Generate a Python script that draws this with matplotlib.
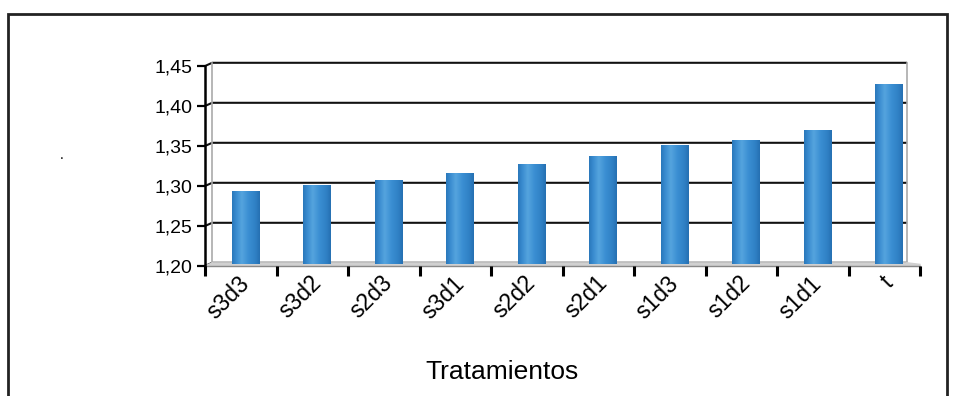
import matplotlib
matplotlib.use('Agg')
import matplotlib.pyplot as plt
from matplotlib.colors import LinearSegmentedColormap
from matplotlib.patches import Rectangle
import numpy

plt.rcParams['font.family'] = ['Liberation Sans', 'DejaVu Sans']

# treatments and their means
tratamientos = ['s3d3', 's3d2', 's2d3', 's3d1', 's2d2', 's2d1', 's1d3', 's1d2', 's1d1', 't']
medias = [1.293, 1.300, 1.306, 1.315, 1.327, 1.336, 1.350, 1.356, 1.369, 1.426]
y_ticks = [1.20, 1.25, 1.30, 1.35, 1.40, 1.45]
y_labels = ['1,20', '1,25', '1,30', '1,35', '1,40', '1,45']

ymin, ymax = 1.20, 1.45
n = len(tratamientos)

fig = plt.figure(figsize=(9.55, 3.96), dpi=100)

# outer frame of the chart area
frame = Rectangle((8 / 955, -0.05), 939 / 955, 1 - 14 / 396 + 0.05,
                  transform=fig.transFigure, fill=False,
                  edgecolor='#222222', linewidth=2.0)
fig.add_artist(frame)

ax = fig.add_axes([205 / 955, 1 - 266 / 396, 715 / 955, 200 / 396])
ax.set_xlim(0, n)
ax.set_ylim(ymin, ymax)
for s in ax.spines.values():
  s.set_visible(False)

# back wall offset (fake depth)
dx = 0.1
dy = 0.004
wall_right = 9.82

# gridlines on the back wall, joined to the front axis
for v in y_ticks:
  ax.plot([0, dx, wall_right], [v, v + dy, v + dy], color='#111111',
          linewidth=1.5, zorder=1, solid_capstyle='butt', clip_on=False)
ax.plot([dx, dx], [ymin + dy, ymax + dy], color='#aaaaaa', linewidth=1.2,
        zorder=1, clip_on=False)
ax.plot([wall_right, wall_right], [ymin + dy, ymax + dy], color='#aaaaaa',
        linewidth=1.2, zorder=1, clip_on=False)

# floor
ax.fill([0, dx, wall_right, n, n], [ymin, ymin + dy, ymin + dy, ymin + 0.002, ymin],
        color='#d0d0d0', zorder=1, clip_on=False)
ax.plot([0, n], [ymin, ymin], color='#888888', linewidth=1.0, zorder=1, clip_on=False)

# front axis line
ax.plot([0, 0], [ymin, ymax], color='black', linewidth=1.8, zorder=3, clip_on=False)

# cylinder-like shading for the columns
cmap = LinearSegmentedColormap.from_list('columna', [
  (0.0, '#2a78bb'), (0.15, '#3a8cd0'), (0.35, '#55a4de'),
  (0.6, '#3a8ed2'), (0.85, '#2f80c4'), (1.0, '#2670b2')])
grad = numpy.linspace(0, 1, 64).reshape(1, -1)

ancho = 0.39
for i, v in enumerate(medias):
  cx = i + 0.5 + 0.07
  ax.imshow(grad, cmap=cmap, aspect='auto', zorder=2,
            extent=[cx - ancho / 2, cx + ancho / 2, ymin + 0.002, v],
            interpolation='bilinear')

ax.set_xlim(0, n)
ax.set_ylim(ymin, ymax)

ax.set_yticks(y_ticks)
ax.set_yticklabels(y_labels, fontsize=14)
ax.tick_params(axis='y', length=6, width=1.6, pad=3, direction='out')

ax.set_xticks(numpy.arange(n + 1))
ax.set_xticklabels([])
ax.tick_params(axis='x', length=7, width=2.2, direction='out')
for i, lab in enumerate(tratamientos):
  ax.text(i + 0.46, ymin - 0.007, lab, rotation=45, ha='right', va='top',
          fontsize=16.5, rotation_mode='anchor', transform=ax.transData)

fig.text(502 / 955, 1 - 372 / 396, 'Tratamientos', ha='center', va='center',
         fontsize=19)

fig.text(62 / 955, 1 - 155 / 396, '.', fontsize=10, ha='center', va='center')

fig.savefig('out.png', dpi=100)
